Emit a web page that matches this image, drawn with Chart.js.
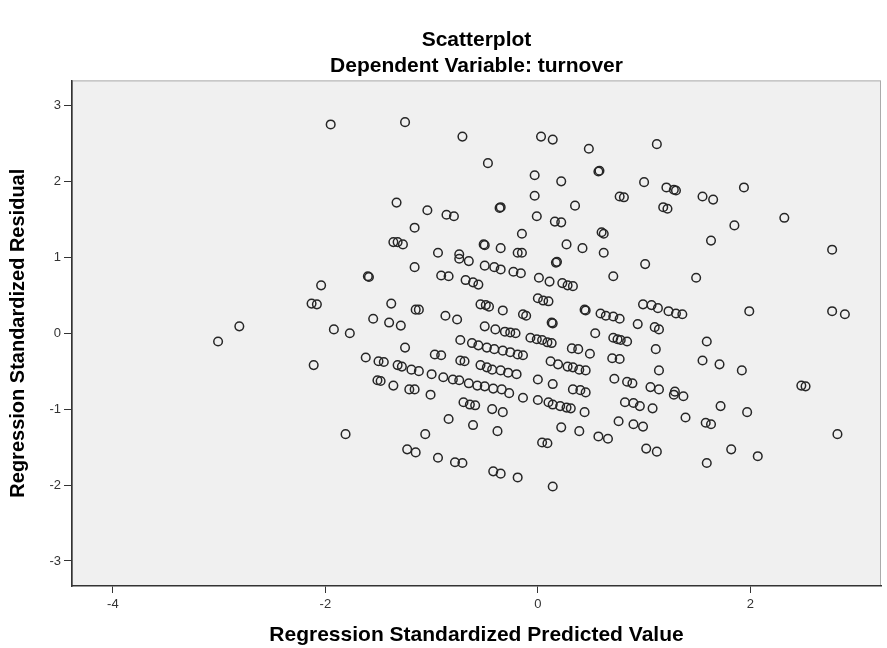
<!DOCTYPE html>
<html>
<head>
<meta charset="utf-8">
<script src="https://cdn.jsdelivr.net/npm/chart.js@4.4.1/dist/chart.umd.min.js"></script>
<style>
  html, body { margin: 0; padding: 0; background: #fff; }
  #wrap { width: 887px; height: 648px; }
</style>
</head>
<body>
<div id="wrap"><canvas id="scatter"></canvas></div>
<script>
// regression standardized predicted value (x) and residual (y)
var predicted = [
  -1.95,-1.25,-1.33,-1.04,-1.16,-1.36,-1.32,-1.27,
  -0.71,0.03,0.14,0.48,1.12,-0.47,-0.03,0.57,0.58,0.22,1.00,-0.03,0.77,0.81,-0.86,-0.79,
  -0.35,-0.36,-0.01,0.35,0.16,0.22,-0.15,0.60,0.62,-0.51,-0.50,-0.35,-0.19,-0.15,0.27,0.42,
  0.62,-0.94,-0.74,
  1.21,1.28,1.30,1.18,1.22,1.55,1.65,1.94,1.85,2.32,1.63,2.77,
  -1.16,-1.60,-1.59,-2.04,-2.13,-2.08,-1.38,-1.15,-1.12,-2.81,-3.01,-1.92,-1.77,-1.55,-1.40,
  -1.29,-1.25,-2.11,-1.62,-1.50,-1.45,-1.32,-1.28,-1.19,-1.12,-1.51,-1.48,-1.36,-1.21,-1.16,
  1.49,0.99,1.07,1.13,1.23,1.30,1.36,1.99,2.77,2.89,1.10,1.14,1.59,1.11,1.55,1.71,1.92,1.14,
  2.48,2.52,1.14,1.29,
  -0.74,-0.65,-0.50,-0.41,-0.35,-0.23,-0.16,0.17,
  0.18,1.01,0.71,-0.91,-0.84,-0.68,-0.61,-0.56,
  0.01,0.11,0.23,0.28,0.33,0.00,0.05,0.10,
  -0.54,-0.49,-0.46,-0.33,-0.14,-0.11,-0.87,-0.76,
  0.45,0.44,0.59,0.64,0.71,0.77,0.13,0.14,
  -0.50,-0.40,-0.31,-0.26,-0.21,-0.07,-0.01,0.04,
  0.09,0.13,0.54,0.71,0.75,0.78,0.84,0.94,
  -0.73,-0.62,-0.56,-0.48,-0.41,-0.33,-0.26,-0.19,
  -0.14,0.32,0.38,0.49,-0.97,-0.91,-0.73,-0.69,
  -0.54,-0.48,-0.43,-0.35,-0.28,-0.20,0.12,0.19,
  0.28,0.33,0.39,0.45,0.70,0.77,-1.00,-0.89,
  -0.80,-0.74,-0.65,-0.57,-0.50,-0.42,-0.34,0.00,
  0.14,0.72,0.84,0.89,0.33,0.40,0.45,1.06,
  -1.01,-1.81,-1.23,-1.15,-1.06,-0.70,-0.64,-0.59,
  -0.43,-0.33,-0.27,-0.14,0.00,0.10,0.14,0.21,
  0.27,0.31,0.44,-0.84,-0.61,-0.38,0.22,0.39,
  0.57,0.66,0.76,0.82,0.90,0.96,1.08,0.90,
  0.99,0.04,0.09,-0.94,-0.78,-0.71,-0.42,-0.35,
  -0.19,0.14,1.02,1.12,1.28,1.37,1.39,1.58,
  1.63,1.72,1.97,2.82,1.82,2.07,1.59
];
var residual = [
  2.75,2.78,1.72,1.62,1.39,1.20,1.20,1.17,
  2.59,2.59,2.55,2.43,2.49,2.24,2.08,2.13,2.14,2.00,1.99,1.81,1.80,1.79,1.56,1.54,
  1.66,1.65,1.54,1.68,1.47,1.46,1.31,1.33,1.31,1.17,1.16,1.12,1.06,1.06,1.17,1.12,
  1.06,1.06,1.04,
  1.92,1.89,1.88,1.66,1.64,1.80,1.76,1.92,1.42,1.52,1.22,1.10,
  0.87,0.75,0.74,0.63,0.39,0.38,0.39,0.31,0.31,0.09,-0.11,0.05,0.00,0.19,0.14,
  0.10,-0.19,-0.42,-0.32,-0.37,-0.38,-0.42,-0.44,-0.48,-0.50,-0.62,-0.63,-0.69,-0.74,-0.74,
  0.73,0.38,0.37,0.33,0.29,0.26,0.25,0.29,0.29,0.25,0.08,0.05,-0.11,-0.21,-0.36,-0.41,-0.49,-0.49,
  -0.69,-0.70,-0.74,-0.77,
  0.98,0.95,0.89,0.87,0.84,0.81,0.79,0.93,
  0.94,0.91,0.75,0.76,0.75,0.70,0.67,0.64,
  0.73,0.68,0.66,0.63,0.62,0.46,0.43,0.42,
  0.38,0.37,0.35,0.30,0.25,0.23,0.23,0.18,
  0.30,0.31,0.26,0.23,0.22,0.19,0.14,0.13,
  0.09,0.05,0.02,0.01,0.00,-0.06,-0.08,-0.09,
  -0.12,-0.13,0.00,-0.06,-0.08,-0.09,-0.11,0.12,
  -0.09,-0.13,-0.16,-0.19,-0.21,-0.23,-0.25,-0.28,
  -0.29,-0.20,-0.21,-0.27,-0.28,-0.29,-0.36,-0.37,
  -0.42,-0.45,-0.48,-0.49,-0.52,-0.54,-0.37,-0.41,
  -0.44,-0.45,-0.48,-0.49,-0.33,-0.34,-0.54,-0.58,
  -0.61,-0.62,-0.66,-0.69,-0.70,-0.73,-0.74,-0.61,
  -0.67,-0.60,-0.64,-0.66,-0.74,-0.75,-0.78,-0.71,
  -0.81,-1.33,-1.53,-1.57,-1.33,-0.91,-0.94,-0.95,
  -1.00,-1.04,-0.79,-0.85,-0.88,-0.91,-0.94,-0.96,
  -0.98,-0.99,-1.04,-1.13,-1.21,-1.29,-1.24,-1.29,
  -1.36,-1.39,-1.16,-0.91,-0.92,-0.96,-0.99,-1.20,
  -1.23,-1.44,-1.45,-1.64,-1.70,-1.71,-1.82,-1.85,
  -1.90,-2.02,-1.52,-1.56,-0.81,-0.83,-1.11,-1.18,
  -1.20,-0.96,-1.04,-1.33,-1.53,-1.62,-1.71
];
var xTicks = [-4, -2, 0, 2];
var yTicks = [3, 2, 1, 0, -1, -2, -3];

var points = predicted.map(function(x, i) {
  return { x: x, y: residual[i] };
});

Chart.defaults.font.family = "'Liberation Sans', Arial, sans-serif";

// grey plot background with a thin frame
var plotBackground = {
  id: 'plotBackground',
  beforeDraw: function(chart) {
    var a = chart.chartArea;
    var ctx = chart.ctx;
    ctx.save();
    ctx.fillStyle = '#f0f0f0';
    ctx.fillRect(a.left, a.top, a.right - a.left, a.bottom - a.top);
    ctx.strokeStyle = '#ababab';
    ctx.lineWidth = 1;
    ctx.strokeRect(a.left + 0.5, a.top + 0.5, a.right - a.left - 1, a.bottom - a.top - 1);
    ctx.restore();
  }
};

var titleFont = { size: 21, weight: 'bold' };

new Chart(document.getElementById('scatter'), {
  type: 'scatter',
  data: {
    datasets: [{
      data: points,
      pointStyle: 'circle',
      pointRadius: 4.3,
      pointBorderWidth: 1.5,
      pointBorderColor: '#262626',
      pointBackgroundColor: 'rgba(0,0,0,0)'
    }]
  },
  options: {
    responsive: true,
    maintainAspectRatio: false,
    animation: false,
    events: [],
    layout: { padding: { top: 0, right: 6, bottom: 0, left: 0 } },
    plugins: {
      legend: { display: false },
      tooltip: { enabled: false },
      title: {
        display: true,
        text: 'Scatterplot',
        fullSize: false,
        color: '#000',
        font: titleFont,
        padding: { top: 28, bottom: 0 }
      },
      subtitle: {
        display: true,
        text: 'Dependent Variable: turnover',
        fullSize: false,
        color: '#000',
        font: titleFont,
        padding: { top: 0, bottom: 2 }
      }
    },
    scales: {
      x: {
        type: 'linear',
        min: -4.385,
        max: 3.23,
        afterBuildTicks: function(scale) {
          scale.ticks = xTicks.map(function(v) { return { value: v }; });
        },
        afterFit: function(scale) { scale.height = 62; },
        ticks: { color: '#333', font: { size: 13 }, padding: 4, maxRotation: 0 },
        grid: { drawOnChartArea: false, drawTicks: true, tickLength: 7, color: '#333', lineWidth: 1 },
        border: { color: '#333', width: 1.5 },
        title: {
          display: true,
          text: 'Regression Standardized Predicted Value',
          color: '#000',
          font: titleFont,
          padding: { top: 0, bottom: 0 }
        }
      },
      y: {
        type: 'linear',
        min: -3.33,
        max: 3.33,
        afterBuildTicks: function(scale) {
          scale.ticks = yTicks.map(function(v) { return { value: v }; });
        },
        afterFit: function(scale) { scale.width = 72; },
        ticks: { color: '#333', font: { size: 13 }, padding: 3 },
        grid: { drawOnChartArea: false, drawTicks: true, tickLength: 8, color: '#333', lineWidth: 1 },
        border: { color: '#333', width: 1.5 },
        title: {
          display: true,
          text: 'Regression Standardized Residual',
          color: '#000',
          font: { size: 20, weight: 'bold' },
          padding: { top: 6, bottom: 0 }
        }
      }
    }
  },
  plugins: [plotBackground]
});
</script>
</body>
</html>
